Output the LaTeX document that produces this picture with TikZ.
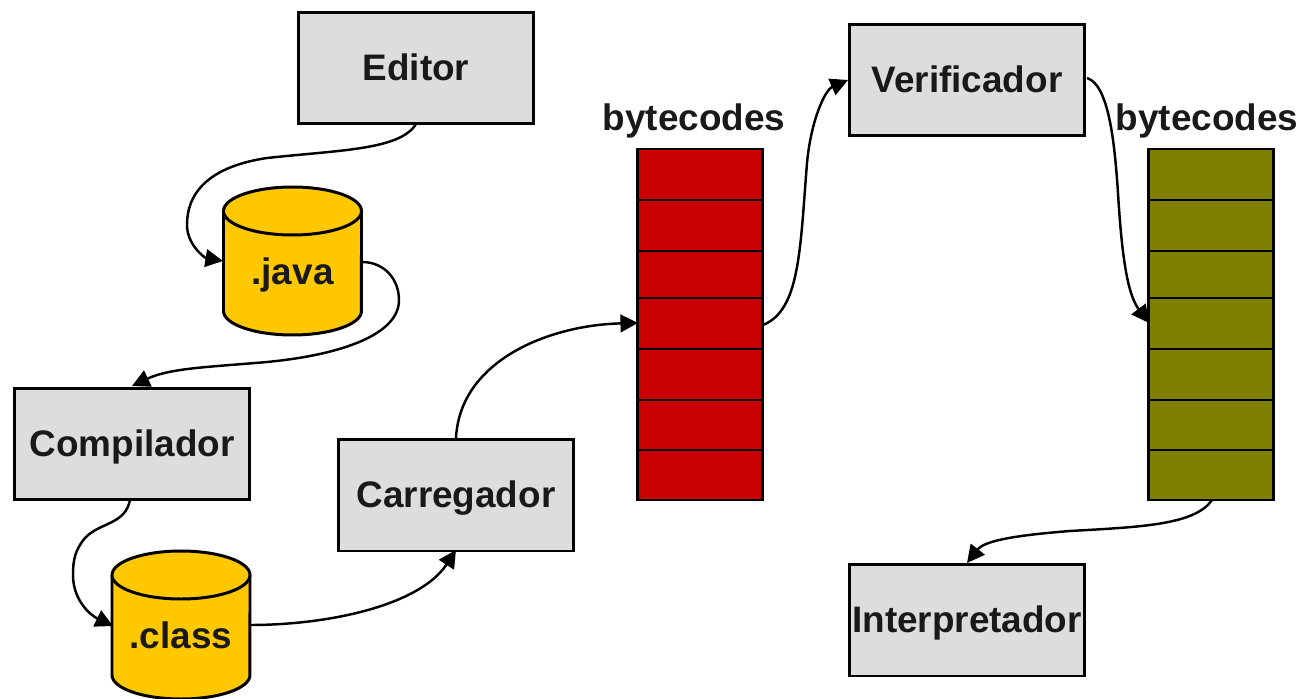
\documentclass[tikz,border=0pt]{standalone}
\usepackage{fontspec}
\setmainfont{Liberation Sans}
\usetikzlibrary{arrows.meta}
\definecolor{boxgray}{RGB}{221,221,221}
\definecolor{diskyellow}{RGB}{255,200,0}
\definecolor{stackred}{RGB}{200,0,0}
\definecolor{stackolive}{RGB}{128,128,0}
\tikzset{
  px/.style={x=0.02cm,y=-0.02cm},
  labelfont/.style={font=\fontsize{21}{24}\selectfont\bfseries,text=black!90,text height=14pt,text depth=0pt},
  stagebox/.style={draw,line width=1.7pt,fill=boxgray,minimum width=4.72cm,minimum height=2.24cm,inner sep=0pt,labelfont},
  disk/.style={draw,line width=1.7pt,fill=diskyellow},
  rim/.style={x radius=1.38cm,y radius=0.48cm},
  slot/.style={draw,line width=1.5pt,minimum width=2.5cm,inner sep=0pt},
  flow/.style={line width=1.4pt,-{Triangle[length=10pt,width=10pt]}},
}
\begin{document}
\begin{tikzpicture}[px]
\useasboundingbox (0,0) rectangle (1301,699);
\node[stagebox] (editor) at (416,68) {Editor};
\node[stagebox] (compilador) at (132,444) {Compilador};
\node[stagebox] (carregador) at (456,495) {Carregador};
\node[stagebox] (verificador) at (967,80) {Verificador};
\node[stagebox] (interpretador) at (967,620) {Interpretador};
% disks
\foreach\name/\cx/\cy/\txt in {java/292.5/261/.java,class/181/625/.class}{
  \draw[disk] (\cx-69,\cy-50) -- (\cx-69,\cy+50) arc[start angle=180,end angle=360,rim]
    -- (\cx+69,\cy-50) arc[start angle=0,end angle=180,rim] -- cycle;
  \draw[disk] (\cx-69,\cy-50) arc[start angle=180,end angle=360,rim];
  \node[labelfont,inner sep=0pt] (\name) at (\cx,\cy+11) {\txt};
}
% stacks of bytecodes
\foreach\name/\col/\xc in {red/stackred/700,olive/stackolive/1211}{
  \foreach\i/\top/\bot in {1/149/200,2/200/251,3/251/298,4/298/349,5/349/400,6/400/450,7/450/500}{
    \node[slot,fill=\col,minimum height={(\bot-\top)*0.02cm}] (\name\i) at (\xc,{(\top+\bot)/2}) {};
  }
}
\node[labelfont] (labelred) at (694,118) {bytecodes};
\node[labelfont] (labelolive) at (1207,118) {bytecodes};
\coordinate (editorout) at (416,124);
\coordinate (javain) at (223,261);
\coordinate (javaout) at (362,262);
\coordinate (compin) at (132,386);
\coordinate (compout) at (130,500);
\coordinate (classin) at (113,626);
\coordinate (classout) at (250,625);
\coordinate (carrin) at (456,550);
\coordinate (carrout) at (456,438);
\coordinate (redin) at (638,323);
\coordinate (redout) at (763,325);
\coordinate (verin) at (848,80);
\coordinate (verout) at (1087,78);
\coordinate (olivein) at (1149,323);
\coordinate (oliveout) at (1212,500);
\coordinate (interin) at (967,563);
\draw[flow] (editorout) .. controls (400,150) and (340,150) .. (267,158) .. controls (220,165) and (187,185) .. (187,225) .. controls (187,245) and (205,258) .. (javain);
\draw[flow] (javaout) .. controls (385,262) and (399,280) .. (399,300) .. controls (399,335) and (340,355) .. (267,362) .. controls (210,367) and (170,368) .. (compin);
\draw[flow] (compout) .. controls (125,525) and (100,522) .. (85,538) .. controls (75,550) and (73,560) .. (73,575) .. controls (73,600) and (90,615) .. (classin);
\draw[flow] (classout) .. controls (330,625) and (420,605) .. (carrin);
\draw[flow] (carrout) .. controls (460,360) and (550,325) .. (redin);
\draw[flow] (redout) .. controls (800,310) and (800,250) .. (807,163) .. controls (811,120) and (825,90) .. (verin);
\draw[flow] (verout) .. controls (1110,85) and (1115,150) .. (1118,193) .. controls (1122,260) and (1128,295) .. (olivein);
\draw[flow] (oliveout) .. controls (1195,525) and (1140,527) .. (1070,531) .. controls (1020,535) and (985,540) .. (interin);
\end{tikzpicture}
\end{document}
